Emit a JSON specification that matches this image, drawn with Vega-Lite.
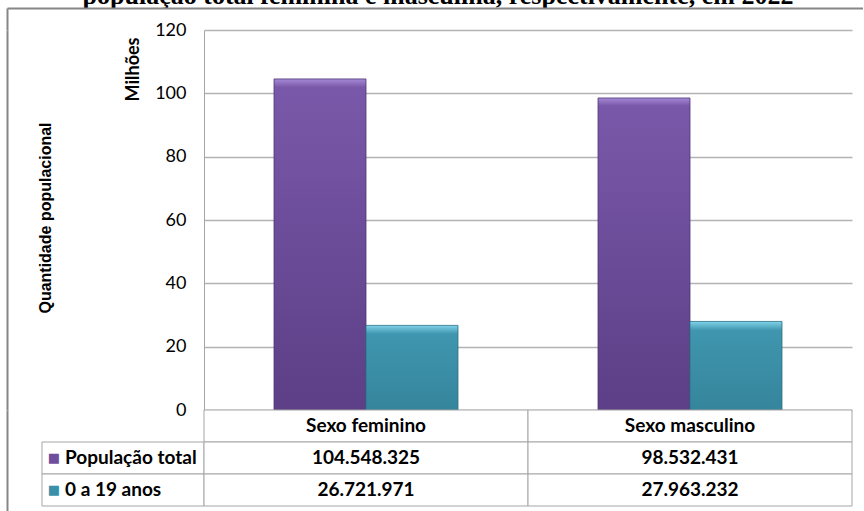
{
  "$schema": "https://vega.github.io/schema/vega-lite/v6.json",
  "padding": {"left": 7, "top": 0, "right": 0, "bottom": 0},
  "background": "white",
  "config": {
    "view": {"stroke": null},
    "font": "Lato",
    "concat": {"spacing": 0}
  },
  "datasets": {
    "barras": [
      {"sexo": "Sexo feminino", "serie": "População total", "valor": 104.548325},
      {"sexo": "Sexo feminino", "serie": "0 a 19 anos", "valor": 26.721971},
      {"sexo": "Sexo masculino", "serie": "População total", "valor": 98.532431},
      {"sexo": "Sexo masculino", "serie": "0 a 19 anos", "valor": 27.963232}
    ],
    "tabela": [
      {"sexo": "Sexo feminino", "linha": "cabecalho", "texto": "Sexo feminino"},
      {"sexo": "Sexo masculino", "linha": "cabecalho", "texto": "Sexo masculino"},
      {"sexo": "Sexo feminino", "linha": "População total", "texto": "104.548.325"},
      {"sexo": "Sexo masculino", "linha": "População total", "texto": "98.532.431"},
      {"sexo": "Sexo feminino", "linha": "0 a 19 anos", "texto": "26.721.971"},
      {"sexo": "Sexo masculino", "linha": "0 a 19 anos", "texto": "27.963.232"}
    ],
    "legenda": [
      {"col": "c", "linha": "População total", "simbolo": "■"},
      {"col": "c", "linha": "0 a 19 anos", "simbolo": "■"}
    ],
    "titulo": [
      {"col": "c", "texto": "população total feminina e masculina, respectivamente, em 2022"}
    ],
    "eixo": [
      {"col": "c", "texto": "Quantidade populacional"}
    ],
    "vazio": [
      {"col": "c", "texto": ""}
    ]
  },
  "bounds": "flush",
  "spacing": 0,
  "vconcat": [
    {
      "width": 856,
      "height": 8,
      "data": {"name": "titulo"},
      "mark": {"type": "text", "clip": true, "font": "Liberation Serif", "fontWeight": "bold", "fontSize": 26, "baseline": "alphabetic", "dy": 4, "dx": 3, "color": "#000000"},
      "encoding": {
        "x": {"field": "col", "type": "nominal", "axis": null, "scale": {"type": "band", "paddingInner": 0, "paddingOuter": 0}},
        "y": {"field": "col", "type": "nominal", "axis": null, "bandPosition": 0, "scale": {"type": "band", "paddingInner": 0, "paddingOuter": 0}},
        "text": {"field": "texto"}
      }
    },
    {
      "width": 856,
      "height": 22,
      "data": {"name": "vazio"},
      "mark": {"type": "text"},
      "encoding": {
        "x": {"field": "col", "type": "nominal", "scale": {"type": "band", "paddingInner": 0, "paddingOuter": 0},
              "axis": {"orient": "top", "title": null, "labels": false, "ticks": false, "domainColor": "#868686", "domainWidth": 2}},
        "y": {"field": "col", "type": "nominal", "scale": {"type": "band", "paddingInner": 0, "paddingOuter": 0},
              "axis": {"orient": "left", "title": null, "labels": false, "ticks": false, "domainColor": "#868686", "domainWidth": 2}},
        "text": {"field": "texto"}
      }
    },
    {
      "bounds": "flush",
      "spacing": 0,
      "columns": 2,
      "concat": [
        {
          "width": 197,
          "height": 380,
          "data": {"name": "eixo"},
          "mark": {"type": "text", "angle": 270, "font": "Liberation Sans", "fontWeight": "bold", "fontSize": 16, "baseline": "middle", "align": "center", "dy": 4, "dx": 2, "color": "#000000"},
          "encoding": {
            "x": {"field": "col", "type": "nominal", "bandPosition": 0, "axis": null, "scale": {"type": "band", "domain": ["c"], "paddingInner": 0, "paddingOuter": 0.108, "align": 1}},
            "y": {"field": "col", "type": "nominal", "scale": {"type": "band", "paddingInner": 0, "paddingOuter": 0},
                  "axis": {"orient": "left", "title": null, "labels": false, "ticks": false, "domainColor": "#868686", "domainWidth": 2}},
            "text": {"field": "texto"}
          }
        },
        {
          "width": 648,
          "height": 380,
          "data": {"name": "barras"},
          "encoding": {
            "x": {"field": "sexo", "type": "nominal", "axis": null, "scale": {"domain": ["Sexo feminino", "Sexo masculino"], "paddingInner": 0, "paddingOuter": 0}},
            "xOffset": {"field": "serie", "type": "nominal", "scale": {"domain": ["População total", "0 a 19 anos"], "paddingInner": 0, "paddingOuter": 0.761}},
            "y": {"field": "valor", "type": "quantitative", "scale": {"domain": [0, 120], "nice": false},
                  "axis": {"values": [0, 20, 40, 60, 80, 100, 120], "title": "Milhões", "titleAnchor": "end", "titleY": 7, "titleFont": "Lato", "titleFontWeight": "bold", "titleFontSize": 18, "titleColor": "#000000", "titlePadding": 12,
                           "labelFont": "Lato", "labelFontSize": 18, "labelColor": "#000000", "labelPadding": 18, "ticks": false,
                           "domainColor": "#a6a6a6", "domainWidth": 1, "gridColor": "#b3b3b3", "gridWidth": 1.5}}
          },
          "layer": [
            {
              "transform": [{"filter": "datum.serie == 'População total'"}],
              "mark": {"type": "bar", "stroke": "#4e3674", "strokeWidth": 0.8,
                       "color": {"gradient": "linear", "x1": 0, "y1": 0, "x2": 0, "y2": 1,
                                 "stops": [{"offset": 0, "color": "#a58ad6"}, {"offset": 0.025, "color": "#7a58a9"}, {"offset": 0.3, "color": "#7151a0"}, {"offset": 1, "color": "#5c3f86"}]}}
            },
            {
              "transform": [{"filter": "datum.serie == '0 a 19 anos'"}],
              "mark": {"type": "bar", "stroke": "#2b6f83", "strokeWidth": 0.8,
                       "color": {"gradient": "linear", "x1": 0, "y1": 0, "x2": 0, "y2": 1,
                                 "stops": [{"offset": 0, "color": "#7fd3ea"}, {"offset": 0.1, "color": "#3f96ae"}, {"offset": 1, "color": "#35859c"}]}}
            }
          ]
        },
        {
          "width": 197,
          "height": 101,
          "data": {"name": "legenda"},
          "encoding": {
            "x": {"field": "col", "type": "nominal", "axis": null, "scale": {"type": "band", "domain": ["c"], "paddingInner": 0, "paddingOuter": 0.108, "align": 1}},
            "y": {"field": "linha", "type": "nominal", "scale": {"type": "band", "domain": ["cabecalho", "População total", "0 a 19 anos"], "paddingInner": 0, "paddingOuter": 0.078, "align": 0},
                  "axis": {"orient": "left", "title": null, "labels": false, "ticks": false, "domainColor": "#868686", "domainWidth": 2}}
          },
          "layer": [
            {"mark": {"type": "rect", "fill": "white", "stroke": "#a6a6a6", "strokeWidth": 1}},
            {"mark": {"type": "text", "align": "center", "baseline": "middle", "dx": 12, "font": "DejaVu Sans", "fontSize": 13},
             "encoding": {
               "x": {"field": "col", "type": "nominal", "bandPosition": 0},
               "text": {"field": "simbolo"},
               "color": {"field": "linha", "type": "nominal", "legend": null, "scale": {"domain": ["População total", "0 a 19 anos"], "range": ["#6f4f9c", "#3a90a8"]}}
             }},
            {"mark": {"type": "text", "align": "left", "baseline": "middle", "dx": 23, "fontWeight": "bold", "fontSize": 19, "color": "#000000"},
             "encoding": {
               "x": {"field": "col", "type": "nominal", "bandPosition": 0},
               "text": {"field": "linha"}
             }}
          ]
        },
        {
          "width": 648,
          "height": 96,
          "data": {"name": "tabela"},
          "encoding": {
            "x": {"field": "sexo", "type": "nominal", "axis": null, "scale": {"domain": ["Sexo feminino", "Sexo masculino"], "paddingInner": 0, "paddingOuter": 0}},
            "y": {"field": "linha", "type": "nominal", "axis": null, "scale": {"domain": ["cabecalho", "População total", "0 a 19 anos"], "paddingInner": 0, "paddingOuter": 0}}
          },
          "layer": [
            {"mark": {"type": "rect", "fill": "white", "stroke": "#a6a6a6", "strokeWidth": 1}},
            {"mark": {"type": "text", "align": "center", "baseline": "middle", "fontWeight": "bold", "fontSize": 19, "color": "#000000"},
             "encoding": {"text": {"field": "texto"}}}
          ]
        }
      ]
    }
  ]
}
